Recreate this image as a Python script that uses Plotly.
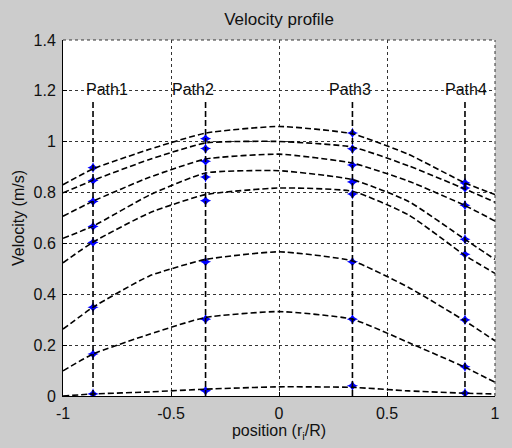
import plotly.graph_objects as go

# ---- data ----
x_profile = [-1.0, -0.861, -0.6, -0.34, 0.0, 0.34, 0.6, 0.861, 1.0]
profile_1 = [0.831, 0.893, 0.970, 1.034, 1.060, 1.031, 0.950, 0.838, 0.792]
profile_2 = [0.799, 0.848, 0.930, 0.995, 1.001, 0.979, 0.905, 0.814, 0.762]
profile_3 = [0.707, 0.766, 0.860, 0.932, 0.951, 0.916, 0.845, 0.749, 0.688]
profile_4 = [0.620, 0.668, 0.790, 0.877, 0.886, 0.851, 0.765, 0.616, 0.537]
profile_5 = [0.524, 0.605, 0.720, 0.792, 0.818, 0.805, 0.712, 0.553, 0.482]
profile_6 = [0.263, 0.349, 0.472, 0.537, 0.567, 0.531, 0.427, 0.295, 0.217]
profile_7 = [0.099, 0.165, 0.243, 0.309, 0.332, 0.302, 0.210, 0.113, 0.054]
profile_8 = [0.000, 0.008, 0.016, 0.027, 0.036, 0.034, 0.020, 0.011, 0.008]
profiles = [profile_1, profile_2, profile_3, profile_4,
            profile_5, profile_6, profile_7, profile_8]

path_names = ["Path1", "Path2", "Path3", "Path4"]
path_x = [-0.861, -0.34, 0.34, 0.861]
path_top = 1.16
path1_meas = [0.898, 0.847, 0.765, 0.667, 0.604, 0.349, 0.165, 0.008]
path2_meas = [1.012, 0.973, 0.923, 0.861, 0.768, 0.528, 0.302, 0.021]
path3_meas = [1.034, 0.972, 0.908, 0.842, 0.794, 0.528, 0.302, 0.040]
path4_meas = [0.838, 0.818, 0.750, 0.616, 0.557, 0.299, 0.115, 0.011]
path_meas = [path1_meas, path2_meas, path3_meas, path4_meas]

x_ticks = [-1, -0.5, 0, 0.5, 1]
y_ticks = [0, 0.2, 0.4, 0.6, 0.8, 1.0, 1.2, 1.4]

# ---- style / layout ----
FONT = "Liberation Sans, Arial, Helvetica, sans-serif"
label_shift = [0.065, -0.06, -0.01, 0.005]   # label offsets from path line

fig = go.Figure()

# measured points
for px, meas in zip(path_x, path_meas):
    fig.add_trace(go.Scatter(
        x=[px] * len(meas), y=meas, mode="markers",
        marker=dict(symbol="star-diamond", size=8, color="#0000ff",
                    line=dict(width=0)),
        showlegend=False, hoverinfo="skip"))

# velocity profiles
for prof in profiles:
    fig.add_trace(go.Scatter(
        x=x_profile, y=prof, mode="lines",
        line=dict(color="black", width=1.6, dash="6px,3px",
                  shape="spline", smoothing=0.5),
        showlegend=False, hoverinfo="skip"))

# path lines
for px in path_x:
    fig.add_trace(go.Scatter(
        x=[px, px], y=[0, path_top], mode="lines",
        line=dict(color="black", width=1.6, dash="6px,3px"),
        showlegend=False, hoverinfo="skip"))

annotations = []
for name, px, dx in zip(path_names, path_x, label_shift):
    annotations.append(dict(
        x=px + dx, y=1.205, xref="x", yref="y", text=name,
        showarrow=False, xanchor="center", yanchor="middle",
        font=dict(family=FONT, size=16, color="#111")))

fig.update_layout(
    width=512, height=448,
    paper_bgcolor="#cccccc", plot_bgcolor="white",
    margin=dict(l=63, r=13, t=40, b=51),
    font=dict(family=FONT, size=16, color="#111"),
    title=dict(text="Velocity profile", x=0.545, xanchor="center",
               y=1 - 19 / 448, yanchor="middle", yref="container",
               font=dict(family=FONT, size=17, color="#111")),
    annotations=annotations,
    showlegend=False,
)

fig.update_xaxes(
    range=[-1, 1], tickvals=x_ticks, ticktext=["-1", "-0.5", "0", "0.5", "1"],
    tickfont=dict(family=FONT, size=16, color="#111"),
    showgrid=True, gridcolor="#333", griddash="dot", gridwidth=1,
    zeroline=False, showline=True, linecolor="black", linewidth=1,
    mirror=False, ticks="inside", ticklen=4, tickcolor="black",
    ticklabelstandoff=3,
    title=dict(text="position (r<sub>i</sub>/R)", standoff=3,
               font=dict(family=FONT, size=16, color="#111")),
)
fig.update_yaxes(
    range=[0, 1.4], tickvals=y_ticks,
    ticktext=["0", "0.2", "0.4", "0.6", "0.8", "1", "1.2", "1.4"],
    tickfont=dict(family=FONT, size=16, color="#111"),
    showgrid=True, gridcolor="#333", griddash="dot", gridwidth=1,
    zeroline=False, showline=True, linecolor="black", linewidth=1,
    mirror=False, ticks="inside", ticklen=4, tickcolor="black",
    ticklabelstandoff=3,
    title=dict(text="Velocity (m/s)", standoff=4,
               font=dict(family=FONT, size=16, color="#111")),
)

# dotted frame on top/right like the reference's box
fig.add_shape(type="line", xref="paper", yref="paper", x0=0, x1=1, y0=1, y1=1,
              line=dict(color="#333", width=1, dash="dot"))
fig.add_shape(type="line", xref="paper", yref="paper", x0=1, x1=1, y0=0, y1=1,
              line=dict(color="#333", width=1, dash="dot"))

fig.write_html("out.html")
